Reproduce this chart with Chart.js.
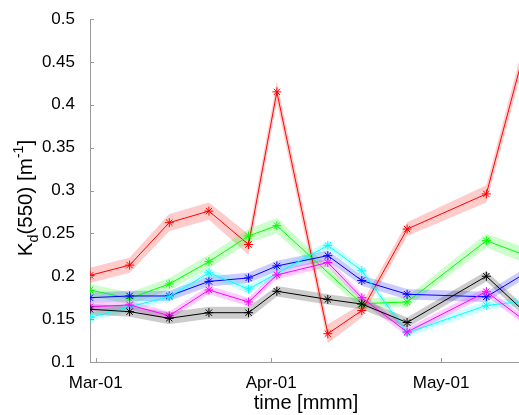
<!DOCTYPE html>
<html>
<head>
<meta charset="utf-8">
<script src="https://cdn.jsdelivr.net/npm/chart.js@4.4.0/dist/chart.umd.min.js"></script>
<style>
html, body { margin: 0; padding: 0; background: #fff; overflow: hidden; }
#wrap { width: 540px; height: 415px; }
</style>
</head>
<body>
<div id="wrap"><canvas id="grafico" width="540" height="415"></canvas></div>
<script>
// =========================
// DATA
// =========================

// sampling days, counted from Mar-01
const days = [-1, 6, 13, 20, 27, 32, 41, 47, 55, 69, 76];

const tickDays = [0, 31, 61];
const tickLabels = ['Mar-01', 'Apr-01', 'May-01'];

// Kd(550) per station, null = no cast that day
const kdRed     = [0.201, 0.213, 0.2625, 0.276, 0.237, 0.415, 0.133, 0.160, 0.255, 0.296, 0.470];
const kdGreen   = [0.184, 0.174, 0.191, 0.217, 0.247, 0.259, null, 0.168, 0.170, 0.2415, 0.224];
const kdBlue    = [0.175, 0.177, 0.177, 0.194, 0.198, 0.212, 0.224, 0.195, 0.179, 0.176, 0.204];
const kdCyan    = [0.152, 0.1645, 0.176, 0.204, 0.185, null, 0.236, 0.2065, 0.134, 0.166, 0.171];
const kdMagenta = [0.1645, 0.1665, 0.154, 0.184, 0.170, 0.2015, 0.216, 0.175, 0.135, 0.182, 0.147];
const kdBlack   = [0.1615, 0.1587, 0.151, 0.1575, 0.1575, 0.1825, 0.173, 0.1676, 0.146, 0.200, 0.157];

// standard deviation (shaded band)
const sdRed     = [0.009, 0.009, 0.010, 0.010, 0.012, 0.012, 0.011, 0.008, 0.008, 0.010, 0.012];
const sdGreen   = [0.007, 0.007, 0.007, 0.008, 0.008, 0.009, null, 0.006, 0.006, 0.008, 0.009];
const sdBlue    = [0.006, 0.006, 0.006, 0.006, 0.006, 0.006, 0.006, 0.006, 0.006, 0.006, 0.006];
const sdCyan    = [0.005, 0.005, 0.005, 0.005, 0.005, null, 0.005, 0.005, 0.005, 0.005, 0.005];
const sdMagenta = [0.005, 0.005, 0.005, 0.005, 0.005, 0.005, 0.005, 0.005, 0.005, 0.005, 0.005];
const sdBlack   = [0.006, 0.006, 0.007, 0.007, 0.007, 0.006, 0.006, 0.006, 0.006, 0.006, 0.006];

const series = [
    { rgb: '0,0,0',     kd: kdBlack,   sd: sdBlack },
    { rgb: '255,0,255', kd: kdMagenta, sd: sdMagenta },
    { rgb: '0,255,255', kd: kdCyan,    sd: sdCyan },
    { rgb: '0,0,255',   kd: kdBlue,    sd: sdBlue },
    { rgb: '0,255,0',   kd: kdGreen,   sd: sdGreen },
    { rgb: '255,0,0',   kd: kdRed,     sd: sdRed }
];

// =========================
// DATASETS
// =========================

function pontos(valores) {
    return days
        .map((d, i) => ({ x: d, y: valores[i] }))
        .filter(p => p.y !== null);
}

const datasets = [];

series.forEach(s => {
    datasets.push({
        data: pontos(s.kd),
        borderColor: `rgb(${s.rgb})`,
        borderWidth: 1,
        pointStyle: 'star',
        pointRadius: 4.5,
        pointBorderWidth: 1,
        pointBorderColor: `rgb(${s.rgb})`,
        fill: false,
        order: 0
    });
});

series.forEach(s => {
    const sup = s.kd.map((v, i) => v === null ? null : v + s.sd[i]);
    const inf = s.kd.map((v, i) => v === null ? null : v - s.sd[i]);
    const idx = datasets.length;
    datasets.push({
        data: pontos(sup),
        borderWidth: 0,
        pointRadius: 0,
        backgroundColor: `rgba(${s.rgb},0.2)`,
        fill: idx + 1,
        order: 1
    });
    datasets.push({
        data: pontos(inf),
        borderWidth: 0,
        pointRadius: 0,
        fill: false,
        order: 1
    });
});

// =========================
// AXES (inward ticks + titles)
// =========================

const corEixo = '#9a9a9a';
const fonte = '"Liberation Sans", Arial, sans-serif';

const tituloY = [
    { t: 'K', dy: 0, esc: 1 },
    { t: 'd', dy: 0.28, esc: 0.7 },
    { t: '(550) [m', dy: 0, esc: 1 },
    { t: '-1', dy: -0.42, esc: 0.7 },
    { t: ']', dy: 0, esc: 1 }
];

const eixosPlugin = {
    id: 'eixosPlugin',
    afterDraw(chart) {
        const { ctx, chartArea: a, scales: { x, y } } = chart;

        ctx.save();
        ctx.strokeStyle = corEixo;
        ctx.lineWidth = 1;
        ctx.beginPath();
        y.ticks.forEach(t => {
            const py = Math.round(y.getPixelForValue(t.value)) + 0.5;
            ctx.moveTo(a.left, py);
            ctx.lineTo(a.left + 4, py);
        });
        x.ticks.forEach(t => {
            const px = Math.round(x.getPixelForValue(t.value)) + 0.5;
            ctx.moveTo(px, a.bottom);
            ctx.lineTo(px, a.bottom - 4);
        });
        ctx.stroke();

        ctx.fillStyle = '#000';

        // x title
        ctx.font = `20px ${fonte}`;
        ctx.textAlign = 'center';
        ctx.textBaseline = 'alphabetic';
        ctx.fillText('time [mmm]', (a.left + a.right) / 2 - 2, 409);

        // y title with subscript / superscript
        const tam = 20.5;
        let largura = 0;
        tituloY.forEach(p => {
            ctx.font = `${tam * p.esc}px ${fonte}`;
            p.w = ctx.measureText(p.t).width;
            largura += p.w;
        });
        ctx.translate(32, 198 + largura / 2);
        ctx.rotate(-Math.PI / 2);
        ctx.textAlign = 'left';
        let pos = 0;
        tituloY.forEach(p => {
            ctx.font = `${tam * p.esc}px ${fonte}`;
            ctx.fillText(p.t, pos, p.dy * tam);
            pos += p.w;
        });

        ctx.restore();
    }
};

// =========================
// CHART
// =========================

const chart = new Chart(
    document.getElementById('grafico'),
    {
        type: 'line',
        data: { datasets },
        options: {
            responsive: false,
            animation: false,
            layout: { padding: { top: 19, right: 14, left: 0, bottom: 0 } },
            plugins: {
                legend: { display: false },
                tooltip: { enabled: false }
            },
            elements: { line: { tension: 0 } },
            scales: {
                x: {
                    type: 'linear',
                    min: -1,
                    max: 76,
                    grid: { display: false },
                    border: { display: true, color: corEixo, width: 1 },
                    afterBuildTicks: s => {
                        s.ticks = tickDays.map(v => ({ value: v }));
                    },
                    afterFit: s => { s.height = 53; },
                    ticks: {
                        autoSkip: false,
                        maxRotation: 0,
                        padding: 3,
                        color: '#000',
                        font: { family: fonte, size: 17 },
                        callback: v => tickLabels[tickDays.indexOf(v)]
                    }
                },
                y: {
                    min: 0.1,
                    max: 0.5,
                    grid: { display: false },
                    border: { display: true, color: corEixo, width: 1 },
                    afterFit: s => { s.width = 90; },
                    ticks: {
                        stepSize: 0.05,
                        padding: 7,
                        color: '#000',
                        font: { family: fonte, size: 17 },
                        callback: v => String(+v.toFixed(2))
                    }
                }
            }
        },
        plugins: [eixosPlugin]
    }
);
</script>
</body>
</html>
